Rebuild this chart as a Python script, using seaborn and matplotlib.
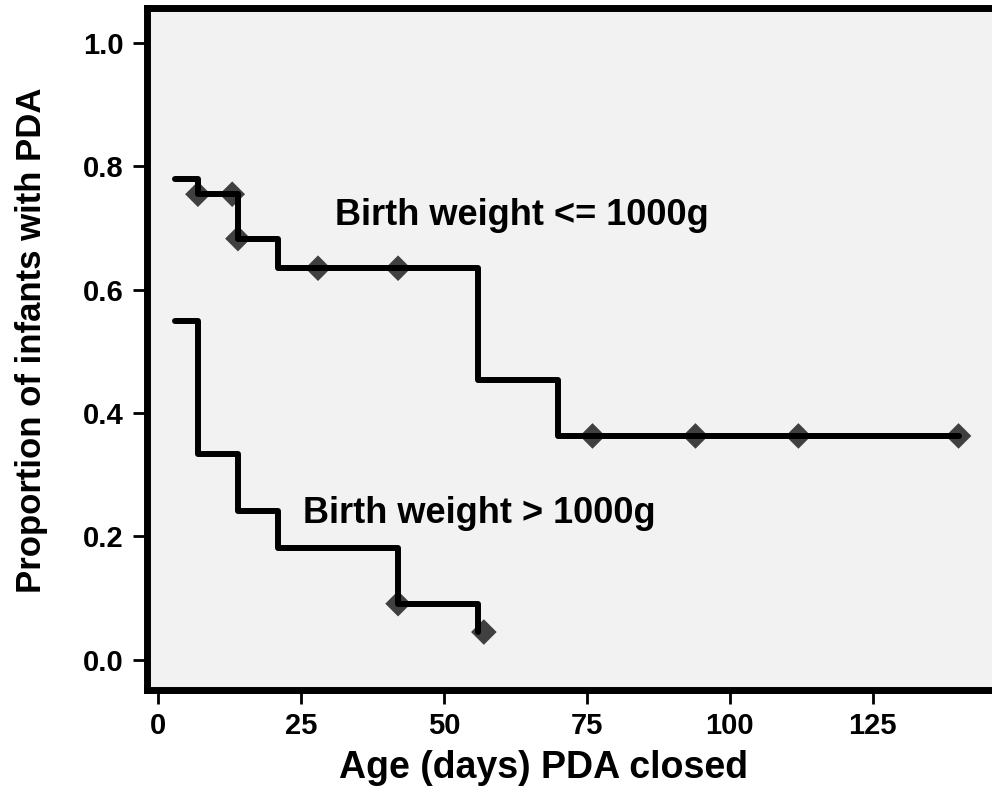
import matplotlib
matplotlib.use("Agg")
import matplotlib.pyplot as plt
import pandas as pd
import seaborn as sns

# Kaplan-Meier steps: day of closure vs proportion still with PDA
low_bw_days = [3, 7, 14, 21, 56, 70, 140]
low_bw_prop = [0.78, 0.755, 0.683, 0.635, 0.453, 0.363, 0.363]
low_bw_cens_days = [7, 13, 14, 28, 42, 76, 94, 112, 140]
low_bw_cens_prop = [0.755, 0.755, 0.683, 0.635, 0.635, 0.363, 0.363, 0.363, 0.363]

high_bw_days = [3, 7, 14, 21, 42, 56]
high_bw_prop = [0.549, 0.334, 0.241, 0.182, 0.091, 0.045]
high_bw_cens_days = [42, 57]
high_bw_cens_prop = [0.091, 0.045]

x_ticks = [0, 25, 50, 75, 100, 125]
y_ticks = [0.0, 0.2, 0.4, 0.6, 0.8, 1.0]

sns.set_style("ticks")
plt.rcParams["font.family"] = ["Liberation Sans", "DejaVu Sans"]
plt.rcParams["font.weight"] = "bold"
plt.rcParams["text.color"] = "black"
plt.rcParams["axes.labelcolor"] = "black"
plt.rcParams["xtick.color"] = "black"
plt.rcParams["ytick.color"] = "black"

fig = plt.figure(figsize=(9.92, 7.89), dpi=100)
ax = fig.add_axes([147 / 992, 1 - 690 / 789, 1 - 147 / 992 + 0.002, (690 - 8) / 789])
ax.set_facecolor("#f2f2f2")

low = pd.DataFrame({"day": low_bw_days, "prop": low_bw_prop})
high = pd.DataFrame({"day": high_bw_days, "prop": high_bw_prop})

for df in (low, high):
    sns.lineplot(data=df, x="day", y="prop", drawstyle="steps-post", color="black",
                 linewidth=4.3, estimator=None, sort=False, ax=ax, zorder=3)

sns.scatterplot(x=low_bw_cens_days + high_bw_cens_days,
                y=low_bw_cens_prop + high_bw_cens_prop,
                marker="D", s=170, color="#404040", edgecolor="none", ax=ax, zorder=2)

ax.text(31, 0.72, "Birth weight <= 1000g", fontsize=26, fontweight="bold", va="center")
ax.text(25.3, 0.238, "Birth weight > 1000g", fontsize=26, fontweight="bold", va="center")

ax.set_xlim(-1.9, 146.2)
ax.set_ylim(-0.049, 1.057)
ax.set_xticks(x_ticks)
ax.set_yticks(y_ticks)
ax.set_yticklabels([f"{v:.1f}" for v in y_ticks])
ax.tick_params(labelsize=21, width=2, length=10)
ax.tick_params(axis="y", pad=7)
ax.tick_params(axis="x", pad=6)
for lab in ax.get_xticklabels() + ax.get_yticklabels():
    lab.set_fontweight("bold")

ax.set_xlabel("Age (days) PDA closed", fontsize=27, fontweight="bold")
ax.set_ylabel("Proportion of infants with PDA", fontsize=25, fontweight="bold")
ax.xaxis.set_label_coords(0.468, -0.088)
ax.yaxis.set_label_coords(-0.117, 0.513)

for side in ("left", "bottom", "top"):
    ax.spines[side].set_linewidth(5)
    ax.spines[side].set_color("black")
ax.spines["right"].set_visible(False)

fig.savefig("out.png", dpi=100)
